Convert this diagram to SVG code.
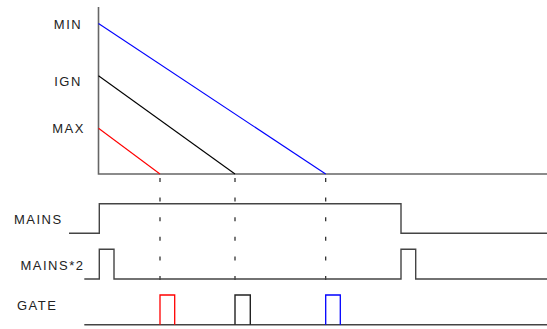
<svg xmlns="http://www.w3.org/2000/svg" width="547" height="329" viewBox="0 0 547 329">
<style>
text{font-family:"Liberation Sans",Arial,sans-serif;font-size:13px;letter-spacing:1.5px;fill:#222}
.ax{stroke:#666;stroke-width:1.6;fill:none}
.w{stroke:#444;stroke-width:1.4;fill:none}
.d{stroke:#222;stroke-width:1.2;stroke-dasharray:4 15.6;fill:none}
</style>
<rect width="547" height="329" fill="#fff"/>
<g id="labels">
<text x="68" y="28.5" text-anchor="middle">MIN</text>
<text x="68" y="86" text-anchor="middle">IGN</text>
<text x="68.5" y="133" text-anchor="middle">MAX</text>
<text x="14" y="224">MAINS</text>
<text x="20.5" y="269.5">MAINS*2</text>
<text x="17" y="310">GATE</text>
</g>
<g id="axes">
<polyline class="ax" points="98.5,7 98.5,174 547,174"/>
</g>
<g id="ramps">
<line x1="98.5" y1="23.5" x2="325.7" y2="174" stroke="#0000ff" stroke-width="1.1"/>
<line x1="98.5" y1="75.7" x2="235" y2="174" stroke="#000" stroke-width="1.1"/>
<line x1="98.5" y1="128.3" x2="160" y2="174" stroke="#ff0000" stroke-width="1.1"/>
</g>
<g id="connectors">
<line class="d" x1="160" y1="178" x2="160" y2="295"/>
<line class="d" x1="235" y1="178" x2="235" y2="295"/>
<line class="d" x1="325.7" y1="178" x2="325.7" y2="295"/>
</g>
<g id="mains">
<polyline class="w" points="69,233.3 99.3,233.3 99.3,203.7 401,203.7 401,233.3 547,233.3"/>
</g>
<g id="mains2">
<polyline class="w" points="84.3,279 99.3,279 99.3,249.3 114,249.3 114,279 401,279 401,249.3 415.7,249.3 415.7,279 547,279"/>
</g>
<g id="gate">
<polyline class="w" points="84.3,324.7 547,324.7"/>
<polyline fill="none" stroke="#ff0000" stroke-width="1.3" points="160,324.7 160,295 174.7,295 174.7,324.7"/>
<polyline fill="none" stroke="#222" stroke-width="1.4" points="235,324.7 235,295 250.3,295 250.3,324.7"/>
<polyline fill="none" stroke="#0000ff" stroke-width="1.3" points="325.7,324.7 325.7,295 340.3,295 340.3,324.7"/>
</g>
</svg>
